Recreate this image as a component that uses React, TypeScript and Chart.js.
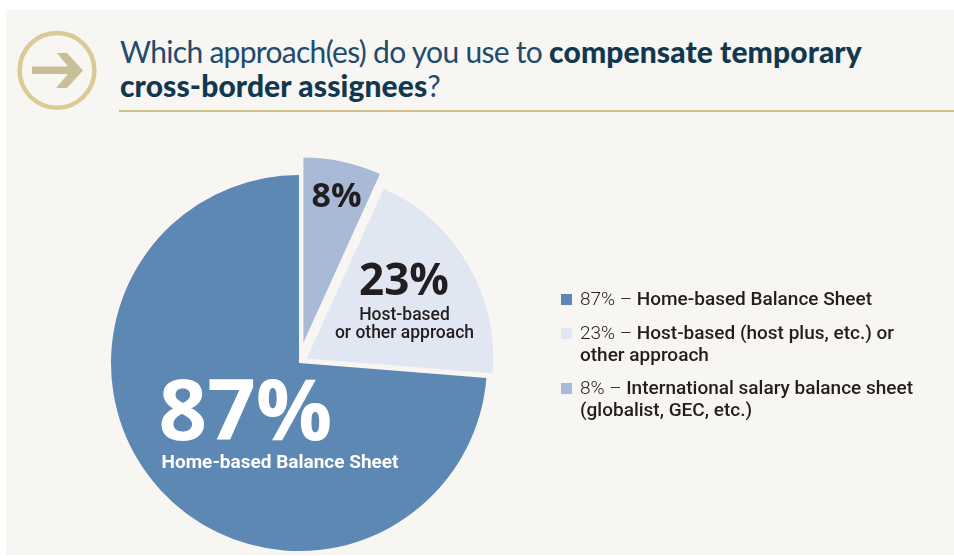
import React, { useEffect, useRef } from "react";
import { Chart, registerables } from "chart.js";

Chart.register(...registerables);

// Slices run clockwise from twelve o'clock.
const categories = ["International salary balance sheet", "Host-based or other approach", "Home-based Balance Sheet"];
const shares = [8, 23, 87];
const sliceColors = ["#A8BAD5", "#E0E6F2", "#5C88B3"];
const sliceShift = [21, 9, 0];
const sliceRadius = [185, 186.5, 188];

const legendOrder = [2, 1, 0];
const legendLines = [
  ["International salary balance sheet", "(globalist, GEC, etc.)"],
  ["Host-based (host plus, etc.) or", "other approach"],
  ["Home-based Balance Sheet"],
];
const legendMarkerTop = [383, 328, 294];
const legendTextTop = [377, 322, 288];

const PANEL = "#F7F6F2";
const INK = "#221E20";
const BODY_FONT = "Roboto, sans-serif";
const NUMBER_FONT = "'Open Sans', sans-serif";

// Pulls each wedge outward along its bisector by its own distance.
const explodedSlices = {
  id: "explodedSlices",
  afterDatasetUpdate(chart: any) {
    chart.getDatasetMeta(0).data.forEach((arc: any, i: number) => {
      const mid = (arc.startAngle + arc.endAngle) / 2;
      arc.x += Math.cos(mid) * sliceShift[i];
      arc.y += Math.sin(mid) * sliceShift[i];
      arc.outerRadius = sliceRadius[i];
    });
  },
};

// Draws the big percentages and captions inside the slices.
const sliceLabels = {
  id: "sliceLabels",
  afterDatasetsDraw(chart: any) {
    const arcs = chart.getDatasetMeta(0).data;
    const { ctx } = chart;
    const origin = { x: arcs[2].x, y: arcs[2].y };
    const put = (text: string, dx: number, dy: number, font: string, color: string) => {
      ctx.font = font;
      ctx.fillStyle = color;
      ctx.fillText(text, origin.x + dx, origin.y + dy);
    };
    ctx.save();
    ctx.textAlign = "center";
    ctx.textBaseline = "alphabetic";
    put(`${shares[2]}%`, -53.5, 77, `700 85px ${NUMBER_FONT}`, "#FFFFFF");
    put(categories[2], -19, 105, `700 19px ${BODY_FONT}`, "#FFFFFF");
    put(`${shares[1]}%`, 105, -68, `700 44px ${NUMBER_FONT}`, INK);
    put("Host-based", 105.5, -43, `500 17.5px ${BODY_FONT}`, INK);
    put("or other approach", 105.5, -25, `500 17.5px ${BODY_FONT}`, INK);
    put(`${shares[0]}%`, 37.5, -156, `700 34px ${NUMBER_FONT}`, INK);
    ctx.restore();
  },
};

export default function App() {
  const canvasRef = useRef<HTMLCanvasElement>(null);

  useEffect(() => {
    document.body.style.margin = "0";
    document.body.style.background = "#FFFFFF";
    const chart = new Chart(canvasRef.current!, {
      type: "pie",
      data: {
        labels: categories,
        datasets: [
          {
            data: shares,
            backgroundColor: sliceColors,
            borderWidth: 0,
            hoverOffset: 0,
            clip: false,
          },
        ],
      },
      options: {
        responsive: false,
        animation: false,
        radius: 188,
        layout: { padding: { left: 0, right: 356, top: 170, bottom: 0 } },
        plugins: { legend: { display: false }, tooltip: { enabled: false } },
      },
      plugins: [explodedSlices, sliceLabels],
    } as any);
    return () => chart.destroy();
  }, []);

  const strong = { fontWeight: 900, color: "#12384F", letterSpacing: 0.1 };

  return (
    <div style={{ position: "relative", width: 954, height: 556, overflow: "hidden" }}>
      <div style={{ position: "absolute", left: 6, top: 10, width: 948, height: 545, background: PANEL }} />
      <svg width={120} height={120} style={{ position: "absolute", left: 0, top: 0 }}>
        <circle cx={57} cy={70.3} r={37.4} fill="none" stroke="#D8CB95" strokeWidth={4.5} />
        <path d="M32 66.5 H68 L57 53 H67 L83 70.5 L67 88 H56 L68 74 H32 Z" fill="#C8BE98" />
      </svg>
      <div
        style={{
          position: "absolute",
          left: 120,
          top: 34,
          fontFamily: "Lato, sans-serif",
          fontSize: 30,
          lineHeight: "34px",
          color: "#1F4B6E",
          fontWeight: 400,
          letterSpacing: -0.7,
          whiteSpace: "nowrap",
        }}
      >
        Which approach(es) do you use to <b style={strong}>compensate temporary</b>
        <br />
        <b style={strong}>cross-border assignees</b>?
      </div>
      <div style={{ position: "absolute", left: 119, top: 110, width: 835, height: 2, background: "#CFC084" }} />
      <canvas ref={canvasRef} width={954} height={556} style={{ position: "absolute", left: 0, top: 0 }} />
      {legendOrder.map((i) => (
        <div key={i}>
          <div
            style={{
              position: "absolute",
              left: 561,
              top: legendMarkerTop[i],
              width: 11,
              height: 11,
              background: sliceColors[i],
            }}
          />
          <div
            style={{
              position: "absolute",
              left: 580,
              top: legendTextTop[i],
              fontFamily: BODY_FONT,
              fontSize: 19,
              lineHeight: "21.5px",
              color: INK,
              fontWeight: 500,
              whiteSpace: "nowrap",
            }}
          >
            <span style={{ fontWeight: 300 }}>{shares[i]}% – </span>
            {legendLines[i][0]}
            {legendLines[i][1] && <br />}
            {legendLines[i][1]}
          </div>
        </div>
      ))}
    </div>
  );
}
